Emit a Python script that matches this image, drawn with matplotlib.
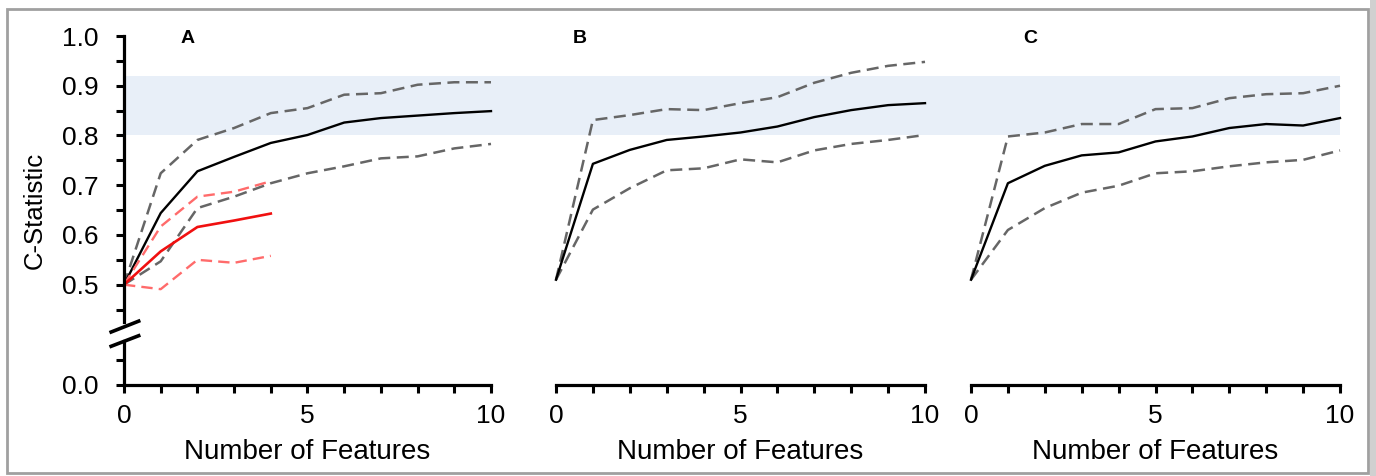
import numpy as np
import matplotlib
matplotlib.use('Agg')
import matplotlib.pyplot as plt
from matplotlib.patches import Rectangle
from matplotlib.transforms import blended_transform_factory

plt.rcParams['font.family'] = ['Liberation Sans', 'DejaVu Sans']

# x values (number of features)
features = np.arange(11)
features_red = np.arange(5)

# panel A
a_mean = [0.50, 0.644, 0.728, 0.757, 0.785, 0.801, 0.826, 0.835, 0.840, 0.845, 0.849]
a_upper = [0.50, 0.724, 0.791, 0.815, 0.845, 0.855, 0.882, 0.885, 0.902, 0.907, 0.907]
a_lower = [0.50, 0.547, 0.654, 0.677, 0.704, 0.724, 0.738, 0.754, 0.758, 0.774, 0.783]
a_red = [0.50, 0.567, 0.616, 0.629, 0.643]
a_red_upper = [0.50, 0.617, 0.677, 0.687, 0.708]
a_red_lower = [0.50, 0.491, 0.550, 0.544, 0.558]

# panel B
b_mean = [0.51, 0.743, 0.771, 0.791, 0.798, 0.806, 0.818, 0.837, 0.851, 0.861, 0.865]
b_upper = [0.51, 0.831, 0.841, 0.853, 0.851, 0.865, 0.877, 0.906, 0.926, 0.940, 0.948]
b_lower = [0.51, 0.651, 0.694, 0.730, 0.734, 0.752, 0.746, 0.770, 0.783, 0.791, 0.801]

# panel C
c_mean = [0.51, 0.704, 0.739, 0.760, 0.766, 0.788, 0.798, 0.815, 0.823, 0.820, 0.835]
c_upper = [0.51, 0.798, 0.806, 0.823, 0.823, 0.853, 0.855, 0.875, 0.883, 0.885, 0.900]
c_lower = [0.51, 0.610, 0.654, 0.685, 0.699, 0.724, 0.728, 0.738, 0.746, 0.751, 0.770]

panel_names = ['A', 'B', 'C']
band = (0.80, 0.92)

W, H = 1376, 476
fig = plt.figure(figsize=(W / 100, H / 100), dpi=100)

lefts = [124, 556, 971]
widths = [367, 369, 369]
top_y0, top_y1 = 322, 36      # pixel rows for upper axes
bot_y0, bot_y1 = 385, 341     # pixel rows for lower axes

gray = '#666666'
lw_sp = 2.3
fs = 19

tops, bots = [], []
for i in range(3):
    l = lefts[i] / W
    w = widths[i] / W
    axt = fig.add_axes([l, 1 - top_y0 / H, w, (top_y0 - top_y1) / H])
    axb = fig.add_axes([l, 1 - bot_y0 / H, w, (bot_y0 - bot_y1) / H])
    for ax in (axt, axb):
        ax.set_facecolor('none')
        ax.set_xlim(0, 10)
        for s in ax.spines.values():
            s.set_visible(False)
            s.set_linewidth(lw_sp)
    axt.set_ylim(0.425, 1.0)
    axb.set_ylim(0, 0.088)
    axt.set_xticks([])
    axb.spines['bottom'].set_visible(True)
    axb.set_xticks([0, 5, 10])
    axb.set_xticks(range(11), minor=True)
    axb.set_xticklabels(['0', '5', '10'], fontsize=fs)
    axb.tick_params(axis='x', which='both', direction='out', length=6, width=2.2, pad=8)
    axb.set_xlabel('Number of Features', fontsize=20)
    axb.xaxis.set_label_coords(0.5, -1.22)
    if i == 0:
        axt.spines['left'].set_visible(True)
        axb.spines['left'].set_visible(True)
        axt.set_yticks(np.arange(0.5, 1.01, 0.1))
        axt.set_yticks(np.arange(0.45, 1.0, 0.05), minor=True)
        axt.set_yticklabels(['%.1f' % v for v in np.arange(0.5, 1.01, 0.1)], fontsize=fs)
        axb.set_yticks([0.0])
        axb.set_yticks([0.05], minor=True)
        axb.set_yticklabels(['0.0'], fontsize=fs)
        for ax in (axt, axb):
            ax.tick_params(axis='y', which='both', direction='out', length=6, width=2.2, pad=12)
        axt.set_ylabel('C-Statistic', fontsize=18.5)
        axt.yaxis.set_label_coords(-0.21, 0.39)
    else:
        axt.set_yticks([])
        axb.set_yticks([])
    tops.append(axt)
    bots.append(axb)

# light blue reference band across all panels
trans = blended_transform_factory(fig.transFigure, tops[0].transData)
fig.patches.append(Rectangle((lefts[0] / W, band[0]), (1340 - lefts[0]) / W, band[1] - band[0],
                             transform=trans, facecolor='#E8EFF8', edgecolor='none', zorder=-1))

dash = (4.8, 2.6)
series = [(a_mean, a_upper, a_lower), (b_mean, b_upper, b_lower), (c_mean, c_upper, c_lower)]
for ax, (m, u, lo), name in zip(tops, series, panel_names):
    ax.plot(features, u, color=gray, lw=1.8, dashes=dash, clip_on=False)
    ax.plot(features, lo, color=gray, lw=1.8, dashes=dash, clip_on=False)
    ax.plot(features, m, color='black', lw=1.7, clip_on=False)
    ax.text({'A': 1.72, 'B': 0.65, 'C': 1.6}[name], 0.995, name, fontsize=14,
            fontweight='bold', ha='center', va='center')

ax = tops[0]
ax.plot(features_red, a_red_upper, color='#FF6B6B', lw=1.7, dashes=dash)
ax.plot(features_red, a_red_lower, color='#FF6B6B', lw=1.7, dashes=dash)
ax.plot(features_red, a_red, color='#F01010', lw=1.9)

# axis break marks
for ax, yc, dy in ((tops[0], -0.016, 0.019), (bots[0], 1.0, 0.12)):
    ax.plot([-0.035, 0.04], [yc - dy, yc + dy], transform=ax.transAxes,
            color='black', lw=2.6, clip_on=False)

# figure frame
fig.patches.append(Rectangle((1370 / W, 0), 6 / W, 1, transform=fig.transFigure,
                             facecolor='#d0d0d0', edgecolor='none', zorder=4))
fig.patches.append(Rectangle((7 / W, 3 / H), 1361 / W, 464 / H, transform=fig.transFigure,
                             fill=False, edgecolor='#a0a0a0', lw=2, zorder=5))

fig.savefig('out.png', dpi=100)
